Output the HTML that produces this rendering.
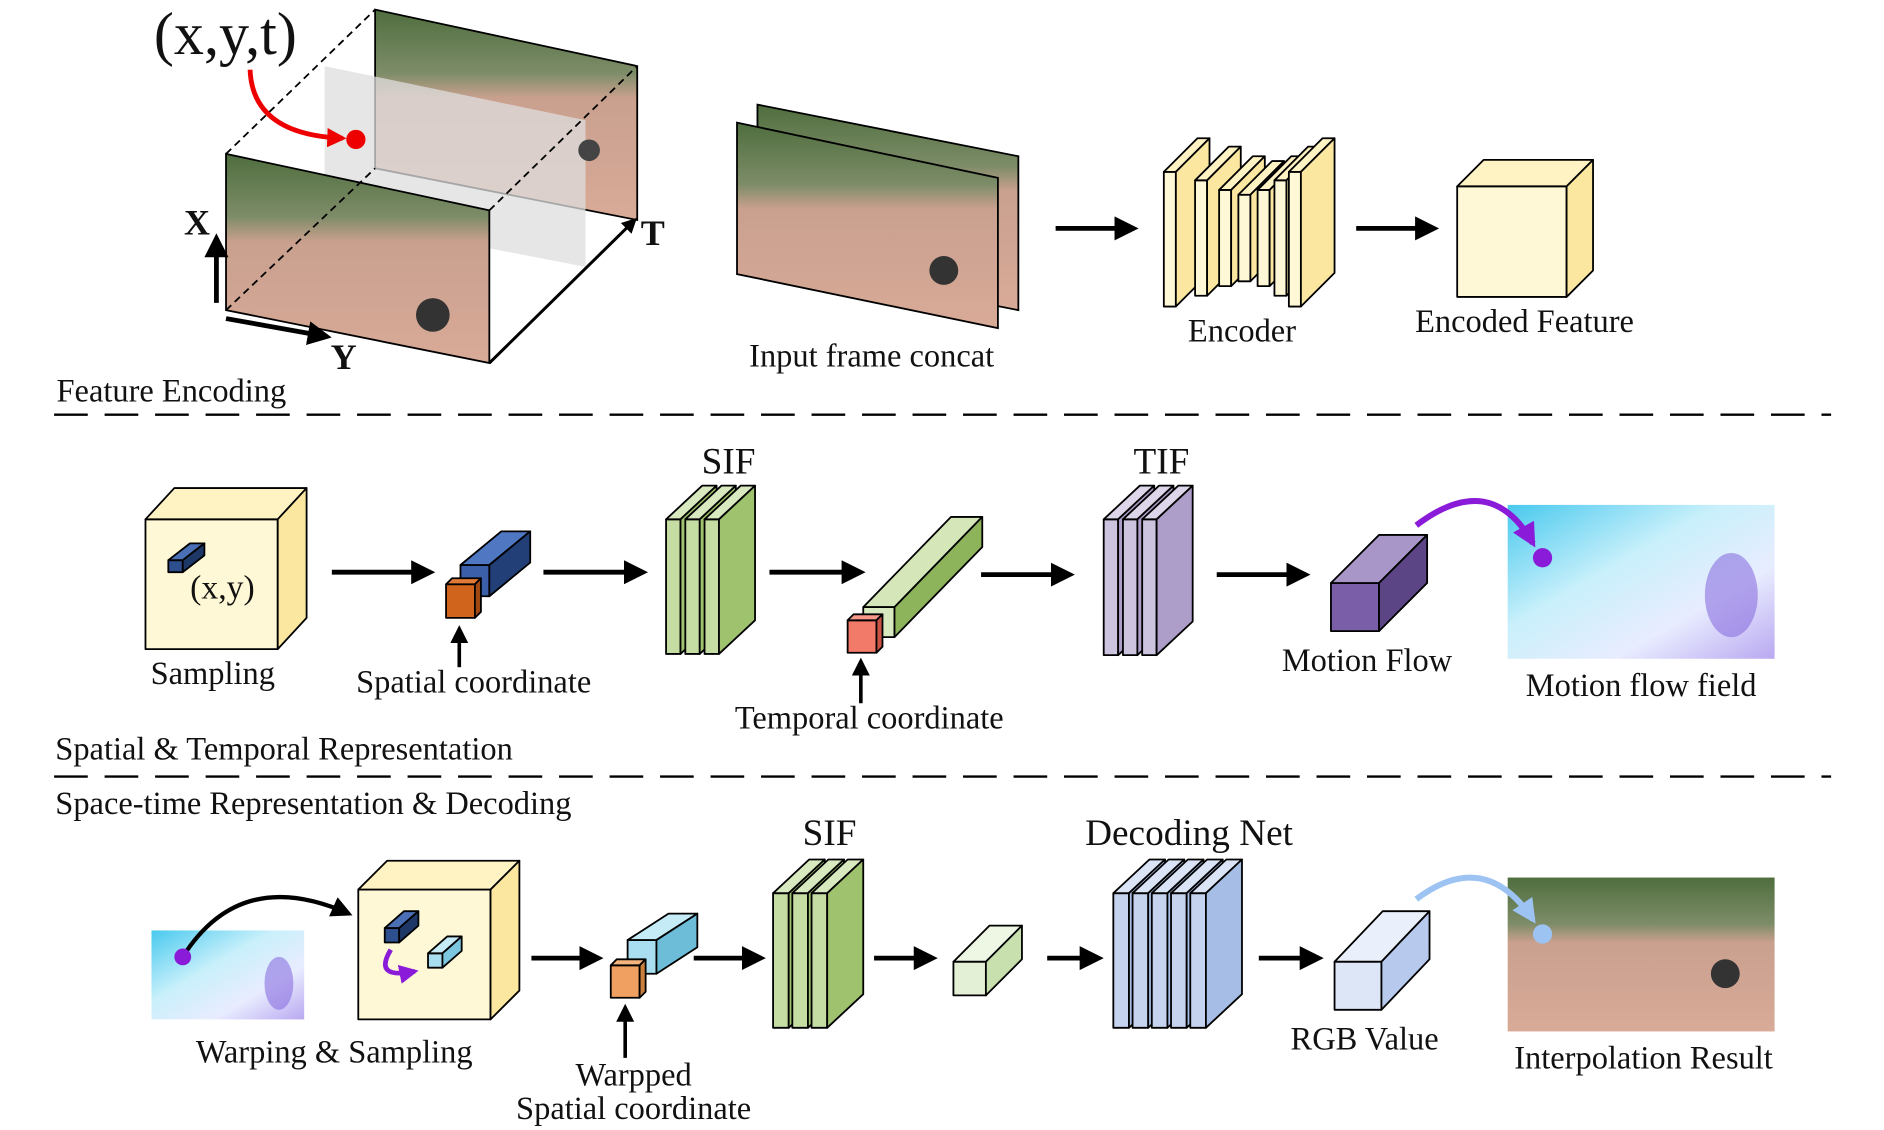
<!DOCTYPE html>
<html><head><meta charset="utf-8"><style>
html,body{margin:0;padding:0;background:#fff;}
svg{display:block;}
text{font-family:"Liberation Serif",serif;fill:#111;}
</style></head><body>
<svg id="s" width="1884" height="1130" viewBox="0 0 1567 940" preserveAspectRatio="none" xmlns="http://www.w3.org/2000/svg">
<defs>
<linearGradient id="ph" x1="0" y1="0" x2="0" y2="1">
<stop offset="0" stop-color="#4f6e3e"/><stop offset="0.3" stop-color="#7d8c68"/><stop offset="0.42" stop-color="#c9a08e"/><stop offset="1" stop-color="#d9aa98"/></linearGradient>
<linearGradient id="fl" x1="0" y1="0" x2="1" y2="1">
<stop offset="0" stop-color="#49c9ee"/><stop offset="0.4" stop-color="#c9f0fb"/><stop offset="0.7" stop-color="#e8ecff"/><stop offset="1" stop-color="#b9a8f0"/></linearGradient>
<marker id="ah" viewBox="0 0 10 10" refX="8" refY="5" markerWidth="5" markerHeight="5" orient="auto"><path d="M0,0L10,5L0,10z" fill="#000"/></marker>
<marker id="ar" viewBox="0 0 10 10" refX="8" refY="5" markerWidth="4" markerHeight="4" orient="auto"><path d="M0,0L10,5L0,10z" fill="#e00"/></marker>
<marker id="ap" viewBox="0 0 10 10" refX="8" refY="5" markerWidth="4" markerHeight="4" orient="auto"><path d="M0,0L10,5L0,10z" fill="#8a1bd8"/></marker>
<marker id="ab" viewBox="0 0 10 10" refX="8" refY="5" markerWidth="4" markerHeight="4" orient="auto"><path d="M0,0L10,5L0,10z" fill="#9cc3f2"/></marker>
</defs>
<g id="g"></g>

<polygon points="312,8 530,55 530,183 312,140" fill="url(#ph)" stroke="#000" stroke-width="1.5"/>
<polygon points="270,55 487,100 487,222 270,180" fill="#ddd" fill-opacity="0.75"/>
<polygon points="188,128 407,175 407,302 188,258" fill="url(#ph)" stroke="#000" stroke-width="1.5"/>
<circle cx="360" cy="262" r="14" fill="#333"/><circle cx="490" cy="125" r="9" fill="#444"/>
<line x1="188" y1="128" x2="312" y2="8" stroke="#000" stroke-width="1.5" stroke-dasharray="6,4"/>
<line x1="407" y1="175" x2="530" y2="55" stroke="#000" stroke-width="1.5" stroke-dasharray="6,4"/>
<line x1="188" y1="258" x2="312" y2="140" stroke="#000" stroke-width="1.5" stroke-dasharray="6,4"/>
<line x1="407" y1="302" x2="528" y2="183" stroke="#000" stroke-width="2.5" marker-end="url(#ah)"/>
<line x1="180" y1="252" x2="180" y2="198" stroke="#000" stroke-width="4" marker-end="url(#ah)"/>
<line x1="188" y1="265" x2="272" y2="280" stroke="#000" stroke-width="4" marker-end="url(#ah)"/>
<text x="153" y="195" font-size="30" font-weight="bold">X</text>
<text x="275" y="307" font-size="30" font-weight="bold">Y</text>
<text x="533" y="204" font-size="30" font-weight="bold">T</text>
<text x="128" y="45" font-size="50">(x,y,t)</text>
<path d="M208,58 Q210,112 285,115" fill="none" stroke="#e00" stroke-width="4" marker-end="url(#ar)"/>
<circle cx="296" cy="116" r="8" fill="#e00"/>

<polygon points="630,87 847,130 847,258 630,215" fill="url(#ph)" stroke="#000" stroke-width="1.5"/>
<polygon points="613,102 830,148 830,273 613,228" fill="url(#ph)" stroke="#000" stroke-width="1.5"/>
<circle cx="785" cy="225" r="12" fill="#333"/>
<text x="725" y="305" font-size="27" text-anchor="middle">Input frame concat</text>
<line x1="878" y1="190" x2="943" y2="190" stroke="#000" stroke-width="4" marker-end="url(#ah)"/>
<text x="1033" y="284" font-size="27" text-anchor="middle">Encoder</text>
<line x1="1128" y1="190" x2="1193" y2="190" stroke="#000" stroke-width="4" marker-end="url(#ah)"/>
<text x="1268" y="276" font-size="27" text-anchor="middle">Encoded Feature</text>
<text x="47" y="334" font-size="27">Feature Encoding</text>
<line x1="45" y1="345" x2="1523" y2="345" stroke="#000" stroke-width="2" stroke-dasharray="28,14"/>

<text x="185" y="498" font-size="28" text-anchor="middle">(x,y)</text>
<text x="177" y="569" font-size="27" text-anchor="middle">Sampling</text>
<line x1="276" y1="476" x2="358" y2="476" stroke="#000" stroke-width="4" marker-end="url(#ah)"/>
<line x1="382" y1="555" x2="382" y2="523" stroke="#000" stroke-width="3" marker-end="url(#ah)"/>
<text x="394" y="576" font-size="27" text-anchor="middle">Spatial coordinate</text>
<line x1="452" y1="476" x2="535" y2="476" stroke="#000" stroke-width="4" marker-end="url(#ah)"/>
<text x="606" y="394" font-size="31" text-anchor="middle">SIF</text>
<line x1="640" y1="476" x2="716" y2="476" stroke="#000" stroke-width="4" marker-end="url(#ah)"/>
<line x1="716" y1="585" x2="716" y2="550" stroke="#000" stroke-width="3" marker-end="url(#ah)"/>
<text x="723" y="606" font-size="27" text-anchor="middle">Temporal coordinate</text>
<line x1="816" y1="478" x2="890" y2="478" stroke="#000" stroke-width="4" marker-end="url(#ah)"/>
<text x="966" y="394" font-size="31" text-anchor="middle">TIF</text>
<line x1="1012" y1="478" x2="1086" y2="478" stroke="#000" stroke-width="4" marker-end="url(#ah)"/>
<text x="1137" y="558" font-size="27" text-anchor="middle">Motion Flow</text>
<rect x="1254" y="420" width="222" height="128" fill="url(#fl)"/>
<ellipse cx="1440" cy="495" rx="22" ry="35" fill="#8a6fe0" opacity="0.6"/>
<path d="M1178,437 Q1240,390 1275,452" fill="none" stroke="#8a1bd8" stroke-width="5" marker-end="url(#ap)"/>
<circle cx="1283" cy="464" r="8" fill="#8a1bd8"/>
<text x="1365" y="579" font-size="27" text-anchor="middle">Motion flow field</text>
<text x="46" y="632" font-size="27">Spatial &amp; Temporal Representation</text>
<line x1="45" y1="646" x2="1523" y2="646" stroke="#000" stroke-width="2" stroke-dasharray="28,14"/>

<text x="46" y="677" font-size="27">Space-time Representation &amp; Decoding</text>
<rect x="126" y="774" width="127" height="74" fill="url(#fl)"/>
<ellipse cx="232" cy="818" rx="12" ry="22" fill="#8a6fe0" opacity="0.6"/>
<path d="M152,796 Q200,720 290,760" fill="none" stroke="#000" stroke-width="3.5" marker-end="url(#ah)"/>
<circle cx="152" cy="796" r="7" fill="#8a1bd8"/>
<text x="278" y="884" font-size="27" text-anchor="middle">Warping &amp; Sampling</text>
<line x1="442" y1="797" x2="498" y2="797" stroke="#000" stroke-width="4" marker-end="url(#ah)"/>
<line x1="520" y1="880" x2="520" y2="838" stroke="#000" stroke-width="3" marker-end="url(#ah)"/>
<text x="527" y="903" font-size="27" text-anchor="middle">Warpped</text>
<text x="527" y="931" font-size="27" text-anchor="middle">Spatial coordinate</text>
<line x1="577" y1="797" x2="633" y2="797" stroke="#000" stroke-width="4" marker-end="url(#ah)"/>
<text x="690" y="703" font-size="31" text-anchor="middle">SIF</text>
<line x1="727" y1="797" x2="776" y2="797" stroke="#000" stroke-width="4" marker-end="url(#ah)"/>
<line x1="871" y1="797" x2="914" y2="797" stroke="#000" stroke-width="4" marker-end="url(#ah)"/>
<text x="989" y="703" font-size="31" text-anchor="middle">Decoding Net</text>
<line x1="1047" y1="797" x2="1097" y2="797" stroke="#000" stroke-width="4" marker-end="url(#ah)"/>
<text x="1135" y="873" font-size="27" text-anchor="middle">RGB Value</text>
<rect x="1254" y="730" width="222" height="128" fill="url(#ph)"/>
<circle cx="1435" cy="810" r="12" fill="#333"/>
<path d="M1178,748 Q1235,705 1275,765" fill="none" stroke="#9cc3f2" stroke-width="5" marker-end="url(#ab)"/>
<circle cx="1283" cy="777" r="8" fill="#9cc3f2"/>
<text x="1367" y="889" font-size="27" text-anchor="middle">Interpolation Result</text>
<g id="g2"></g>
</svg>
<script>
var NS="http://www.w3.org/2000/svg";
var g=document.getElementById('g'),g2=document.getElementById('g2');
function poly(par,pts,f){var p=document.createElementNS(NS,'polygon');p.setAttribute('points',pts.map(function(a){return a.join(',')}).join(' '));p.setAttribute('fill',f);p.setAttribute('stroke','#000');p.setAttribute('stroke-width','1.5');p.setAttribute('stroke-linejoin','round');par.appendChild(p);}
function box(par,x,y,w,h,dx,dy,fr,tp,sd){
 poly(par,[[x,y],[x+w,y],[x+w,y+h],[x,y+h]],fr);
 poly(par,[[x,y],[x+dx,y-dy],[x+w+dx,y-dy],[x+w,y]],tp);
 poly(par,[[x+w,y],[x+w+dx,y-dy],[x+w+dx,y+h-dy],[x+w,y+h]],sd);}
var Y=['#fff8d6','#fff3c4','#fbe7a0'],G=['#c5dca2','#d8e8bf','#9fc26e'],P=['#ccc3df','#ddd6ea','#ad9dc9'],B=['#c6d3ee','#dbe4f6','#a6bde6'];
[[968,143,112],[994,150,96],[1014,158,80],[1030,162,72],[1046,158,80],[1060,150,96],[1072,143,112]].forEach(function(s){box(g,s[0],s[1],10,s[2],28,28,Y[0],Y[1],Y[2]);});
box(g,1212,155,91,92,22,22,Y[0],Y[1],Y[2]);
box(g,121,432,110,108,24,26,Y[0],Y[1],Y[2]);
box(g,140,466,12,10,18,14,'#2d4f8e','#4a6fb5','#1d3866');
box(g,383,470,24,26,34,28,'#3b5fa8','#4f77c2','#233f78');
box(g,371,486,24,28,5,5,'#d0641d','#e07a36','#a04812');
[554,570,586].forEach(function(x){box(g,x,432,12,112,30,28,G[0],G[1],G[2]);});
box(g,718,505,26,25,73,75,G[1],'#d5e6b8','#8db45a');
box(g,705,516,24,27,5,5,'#f27a68','#f7988a','#c95445');
[918,934,950].forEach(function(x){box(g,x,432,12,113,30,28,P[0],P[1],P[2]);});
box(g,1107,485,40,40,40,40,'#7a5fa8','#a996c9','#5c4585');
box(g2,298,740,110,108,24,24,Y[0],Y[1],Y[2]);
box(g2,320,772,12,12,16,14,'#2d4f8e','#4a6fb5','#1d3866');
box(g2,356,793,12,12,16,14,'#a8def0','#c5ebf7','#7cc6e0');
var pth=document.createElementNS(NS,'path');pth.setAttribute('d','M325,790 Q310,815 345,808');pth.setAttribute('fill','none');pth.setAttribute('stroke','#8a1bd8');pth.setAttribute('stroke-width','4');pth.setAttribute('marker-end','url(#ap)');g2.appendChild(pth);
box(g2,522,782,24,28,34,22,'#a8def0','#c5ebf7','#6ebdd8');
box(g2,508,803,24,27,5,5,'#f0a060','#f5b47e','#c97f3e');
[643,659,675].forEach(function(x){box(g2,x,743,13,112,30,28,G[0],G[1],G[2]);});
box(g2,793,800,27,28,30,30,'#e4f0d6','#eef6e4','#c8dfae');
[926,942,958,974,990].forEach(function(x){box(g2,x,743,13,112,30,28,B[0],B[1],B[2]);});
box(g2,1110,800,39,40,40,42,'#dde6f7','#eaf0fb','#b7c9ec');
</script>
</body></html>
